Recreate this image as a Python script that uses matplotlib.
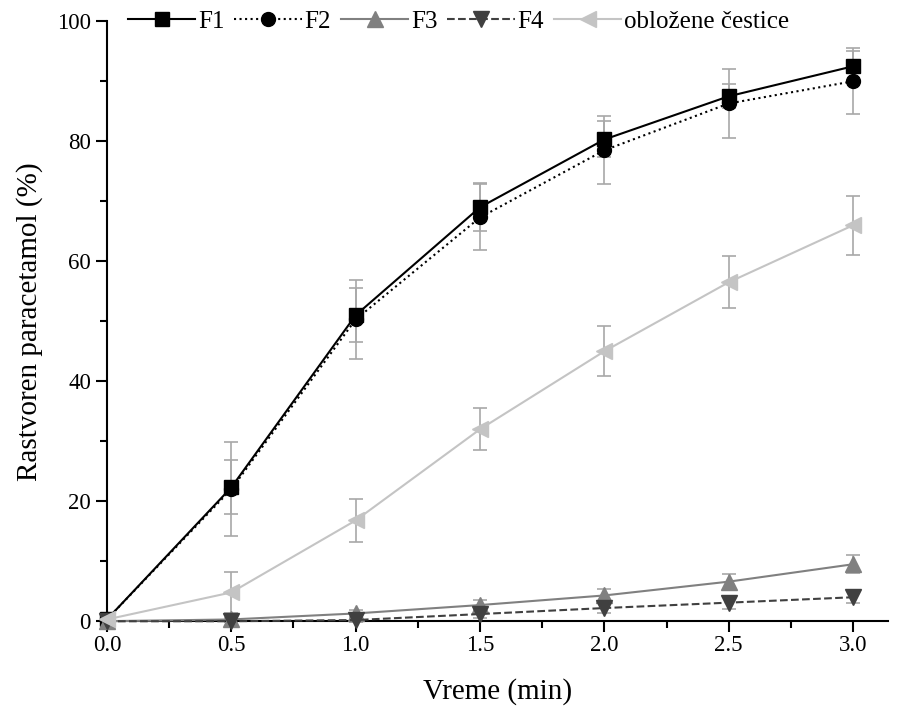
import numpy as np
import matplotlib
matplotlib.use("Agg")
import matplotlib.pyplot as plt
from matplotlib.ticker import MultipleLocator

# data
time = [0.0, 0.5, 1.0, 1.5, 2.0, 2.5, 3.0]
f1 = [0.3, 22.3, 51.0, 69.0, 80.3, 87.5, 92.5]
f1_err = [0.0, 4.5, 4.5, 4.0, 3.0, 2.0, 2.5]
f2 = [0.3, 22.0, 50.3, 67.3, 78.5, 86.3, 90.0]
f2_err = [0.0, 7.8, 6.6, 5.5, 5.7, 5.8, 5.5]
f3 = [0.0, 0.3, 1.3, 2.7, 4.3, 6.6, 9.5]
f3_err = [0.0, 0.3, 0.6, 0.8, 1.0, 1.2, 1.5]
f4 = [0.0, 0.0, 0.2, 1.2, 2.2, 3.1, 4.0]
f4_err = [0.0, 0.2, 0.4, 0.6, 0.8, 1.0, 1.0]
coated = [0.3, 4.8, 16.8, 32.0, 45.0, 56.5, 66.0]
coated_err = [0.0, 3.4, 3.6, 3.5, 4.2, 4.3, 4.9]

labels = ["F1", "F2", "F3", "F4", "obložene čestice"]

plt.rcParams['font.family'] = ['Liberation Serif', 'DejaVu Serif']

fig = plt.figure(figsize=(9.06, 7.1), dpi=100)
ax = fig.add_axes([0.118, 0.125, 0.862, 0.845])

series = [
    (f1, f1_err, dict(color='black', marker='s', linestyle='-', ms=10)),
    (f2, f2_err, dict(color='black', marker='o', linestyle=':', ms=10)),
    (f3, f3_err, dict(color='#808080', marker='^', linestyle='-', ms=11)),
    (f4, f4_err, dict(color='#404040', marker='v', linestyle='--', ms=11)),
    (coated, coated_err, dict(color='#c4c4c4', marker='<', linestyle='-', ms=12)),
]

# error bars first (gray), lines on top
for vals, err, st in series:
    ax.errorbar(time, vals, yerr=err, fmt='none', ecolor='#a8a8a8',
                elinewidth=1.2, capsize=5, capthick=1.2, clip_on=False, zorder=2)

handles = []
for (vals, err, st), lab in zip(series, labels):
    h, = ax.plot(time, vals, color=st['color'], marker=st['marker'],
                 linestyle=st['linestyle'], markersize=st['ms'], lw=1.5,
                 label=lab, clip_on=False, zorder=3)
    handles.append(h)

ax.set_xlim(0, 3.14)
ax.set_ylim(0, 100)
ax.xaxis.set_major_locator(MultipleLocator(0.5))
ax.xaxis.set_minor_locator(MultipleLocator(0.25))
ax.yaxis.set_major_locator(MultipleLocator(20))
ax.yaxis.set_minor_locator(MultipleLocator(10))
ax.xaxis.set_major_formatter(matplotlib.ticker.FormatStrFormatter('%.1f'))

ax.spines['top'].set_visible(False)
ax.spines['right'].set_visible(False)
for s in ['left', 'bottom']:
    ax.spines[s].set_linewidth(1.5)
ax.tick_params(which='major', direction='out', length=8, width=1.5, labelsize=16.5)
ax.tick_params(axis='x', which='major', pad=2)
ax.tick_params(which='minor', direction='out', length=5, width=1.5)

ax.set_xlabel("Vreme (min)", fontsize=21, labelpad=16)
ax.set_ylabel("Rastvoren paracetamol (%)", fontsize=21, labelpad=10)

ax.legend(handles=handles, loc='center left', bbox_to_anchor=(0.027, 1.0), ncol=5,
          frameon=False, fontsize=18, handlelength=2.7, handletextpad=0.1,
          columnspacing=0.4, borderaxespad=0, borderpad=0)

plt.savefig("out.png", dpi=100)
